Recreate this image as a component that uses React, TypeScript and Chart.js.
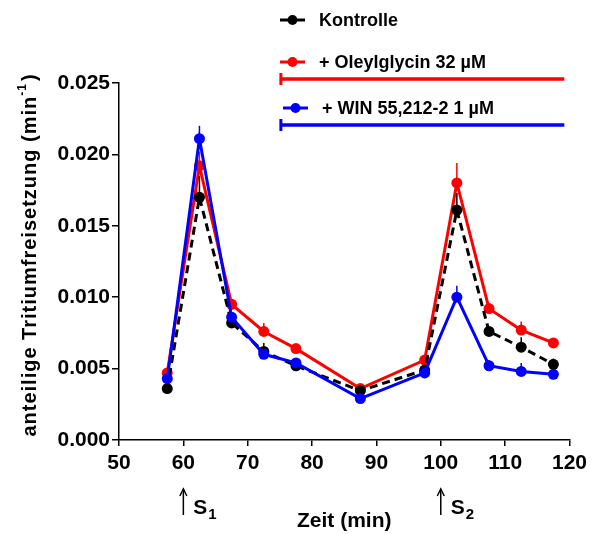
import React, { useEffect, useRef } from "react";
import { Chart, registerables } from "chart.js";

Chart.register(...registerables);

// ---- data ----
const timeMin = [57.5, 62.5, 67.5, 72.5, 77.5, 87.5, 97.5, 102.5, 107.5, 112.5, 117.5];
const kontrolle = [0.0036, 0.017, 0.0082, 0.0062, 0.0052, 0.00345, 0.0049, 0.0161, 0.0076, 0.0065, 0.0053];
const kontrolleErr = [0.0002, 0.0015, 0.0003, 0.0006, 0.0004, 0.0002, 0.0002, 0.0012, 0.0003, 0.0007, 0.0004];
const oleylglycin = [0.0047, 0.0192, 0.0095, 0.0076, 0.0064, 0.0036, 0.0056, 0.018, 0.0092, 0.0077, 0.0068];
const oleylglycinErr = [0.0002, 0.001, 0.0003, 0.0006, 0.0003, 0.0002, 0.0002, 0.0014, 0.0003, 0.0006, 0.0002];
const win = [0.0043, 0.0211, 0.0086, 0.006, 0.0054, 0.0029, 0.0047, 0.01, 0.0052, 0.0048, 0.0046];
const winErr = [0.0002, 0.0009, 0.0002, 0.0002, 0.0002, 0.0001, 0.0002, 0.0008, 0.0004, 0.0006, 0.0002];

const seriesLabels = ["Kontrolle", "+ Oleylglycin 32 µM", "+ WIN 55,212-2 1 µM"];
const seriesColors = ["#000000", "#ff0000", "#0000ff"];
const treatmentStart = [75, 75]; // Oleylglycin, WIN (min)
const treatmentEnd = [119.2, 119.2];
const stimulusTimes = [60, 100];
const stimulusSubs = ["1", "2"];
const xTitle = "Zeit (min)";
const yTitleMain = "anteilige Tritiumfreisetzung (min";
const yTitleSup = "-1";
const yTitleEnd = ")";

const FONT = '"Liberation Sans", Arial, Helvetica, sans-serif';

const errorsBySeries = [kontrolleErr, oleylglycinErr, winErr];

const errorBarPlugin = {
  id: "errorBars",
  beforeDatasetDraw(chart: any, args: any) {
    const idx = args.index;
    const errs = errorsBySeries[idx];
    if (!errs) return;
    const ctx = chart.ctx;
    const xs = chart.scales.x;
    const ys = chart.scales.y;
    const vals = [kontrolle, oleylglycin, win][idx];
    ctx.save();
    ctx.strokeStyle = seriesColors[idx];
    ctx.lineWidth = 1.5;
    for (let i = 0; i < timeMin.length; i++) {
      const x = xs.getPixelForValue(timeMin[i]);
      const y0 = ys.getPixelForValue(vals[i]);
      const y1 = ys.getPixelForValue(vals[i] + errs[i]);
      ctx.beginPath();
      ctx.moveTo(x, y0);
      ctx.lineTo(x, y1);
      ctx.stroke();
    }
    ctx.restore();
  },
};

const decorPlugin = {
  id: "decor",
  afterDraw(chart: any) {
    const ctx = chart.ctx;
    const area = chart.chartArea;
    const xs = chart.scales.x;

    // y-axis title with superscript
    ctx.save();
    ctx.translate(30, 255);
    ctx.rotate(-Math.PI / 2);
    ctx.fillStyle = "#000";
    ctx.textBaseline = "middle";
    ctx.textAlign = "left";
    (ctx as any).letterSpacing = "1px";
    const mainFont = `bold 20px ${FONT}`;
    const supFont = `bold 12px ${FONT}`;
    ctx.font = mainFont;
    const w1 = ctx.measureText(yTitleMain).width;
    const w3 = ctx.measureText(yTitleEnd).width;
    ctx.font = supFont;
    const w2 = ctx.measureText(yTitleSup).width;
    const total = w1 + w2 + w3 + 2;
    let x0 = -total / 2;
    ctx.font = mainFont;
    ctx.fillText(yTitleMain, x0, 0);
    x0 += w1;
    ctx.font = supFont;
    ctx.fillText(yTitleSup, x0, -7);
    x0 += w2 + 2;
    ctx.font = mainFont;
    ctx.fillText(yTitleEnd, x0, 0);
    ctx.restore();

    // legend
    const legendRows = [
      { y: 20, x0: 280 },
      { y: 62, x0: 280 },
      { y: 108, x0: 283 },
    ];
    ctx.save();
    ctx.textBaseline = "middle";
    ctx.textAlign = "left";
    ctx.font = `bold 18px ${FONT}`;
    legendRows.forEach((r, i) => {
      ctx.strokeStyle = seriesColors[i];
      ctx.fillStyle = seriesColors[i];
      ctx.lineWidth = 3;
      ctx.beginPath();
      ctx.moveTo(r.x0, r.y);
      ctx.lineTo(r.x0 + 25, r.y);
      ctx.stroke();
      ctx.beginPath();
      ctx.arc(r.x0 + 12.5, r.y, 5, 0, Math.PI * 2);
      ctx.fill();
      ctx.fillStyle = "#000";
      ctx.fillText(seriesLabels[i], r.x0 + 39, r.y + 1);
    });

    // treatment bars
    const barYs = [area.top - 4, area.top + 42];
    [1, 2].forEach((s, k) => {
      const xa = xs.getPixelForValue(treatmentStart[k]);
      const xb = xs.getPixelForValue(treatmentEnd[k]);
      const y = barYs[k];
      ctx.strokeStyle = seriesColors[s];
      ctx.lineWidth = 3.5;
      ctx.beginPath();
      ctx.moveTo(xa, y);
      ctx.lineTo(xb, y);
      ctx.stroke();
      ctx.lineWidth = 3;
      ctx.beginPath();
      ctx.moveTo(xa + 1, y - 6);
      ctx.lineTo(xa + 1, y + 6);
      ctx.stroke();
    });

    // stimulation arrows S1, S2
    ctx.strokeStyle = "#000";
    ctx.fillStyle = "#000";
    ctx.lineWidth = 1.5;
    stimulusTimes.forEach((t, i) => {
      const x = xs.getPixelForValue(t);
      const yTop = area.bottom + 49;
      const yBot = area.bottom + 75;
      ctx.beginPath();
      ctx.moveTo(x, yBot);
      ctx.lineTo(x, yTop);
      ctx.stroke();
      ctx.beginPath();
      ctx.moveTo(x - 3.5, yTop + 7);
      ctx.lineTo(x, yTop);
      ctx.lineTo(x + 3.5, yTop + 7);
      ctx.stroke();
      ctx.textBaseline = "alphabetic";
      ctx.font = `bold 21px ${FONT}`;
      ctx.fillText("S", x + 10, area.bottom + 74);
      const ws = ctx.measureText("S").width;
      ctx.font = `bold 15px ${FONT}`;
      ctx.fillText(stimulusSubs[i], x + 10 + ws + 1, area.bottom + 79);
    });
    ctx.restore();
  },
};

export default function App() {
  const ref = useRef<HTMLCanvasElement | null>(null);

  useEffect(() => {
    document.body.style.margin = "0";
    document.body.style.overflow = "hidden";
    const canvas = ref.current;
    if (!canvas) return;
    const mk = (vals: number[]) => timeMin.map((t, i) => ({ x: t, y: vals[i] }));
    const chart = new Chart(canvas, {
      type: "line",
      data: {
        datasets: [
          {
            label: seriesLabels[0],
            data: mk(kontrolle),
            borderColor: seriesColors[0],
            backgroundColor: seriesColors[0],
            borderWidth: 3,
            borderDash: [8, 5],
            pointRadius: 5.5,
            pointBorderWidth: 0,
            pointBackgroundColor: seriesColors[0],
            order: 1,
          },
          {
            label: seriesLabels[1],
            data: mk(oleylglycin),
            borderColor: seriesColors[1],
            backgroundColor: seriesColors[1],
            borderWidth: 3,
            pointRadius: 5.5,
            pointBorderWidth: 0,
            pointBackgroundColor: seriesColors[1],
            order: 2,
          },
          {
            label: seriesLabels[2],
            data: mk(win),
            borderColor: seriesColors[2],
            backgroundColor: seriesColors[2],
            borderWidth: 3,
            pointRadius: 5.5,
            pointBorderWidth: 0,
            pointBackgroundColor: seriesColors[2],
            order: 0,
          },
        ],
      },
      options: {
        animation: false,
        responsive: true,
        maintainAspectRatio: false,
        layout: { padding: { top: 83, right: 21, left: 0, bottom: 0 } },
        plugins: {
          legend: { display: false },
          tooltip: { enabled: false },
        },
        scales: {
          x: {
            type: "linear",
            min: 50,
            max: 120,
            ticks: {
              stepSize: 10,
              color: "#000",
              font: { family: FONT, size: 21, weight: "bold" },
              padding: 5,
              maxRotation: 0,
            },
            grid: { drawOnChartArea: false, drawTicks: true, tickLength: 6, color: "#000", lineWidth: 1.5 },
            border: { display: true, color: "#000", width: 1.5 },
            title: {
              display: true,
              text: xTitle,
              color: "#000",
              font: { family: FONT, size: 21, weight: "bold" },
              padding: { top: 0, bottom: 0 },
            },
            afterFit(scale: any) {
              scale.height = 94;
            },
          },
          y: {
            type: "linear",
            min: 0,
            max: 0.025,
            ticks: {
              stepSize: 0.005,
              color: "#000",
              font: { family: FONT, size: 21, weight: "bold" },
              padding: 2,
              callback: (v: any) => Number(v).toFixed(3),
            },
            grid: { drawOnChartArea: false, drawTicks: true, tickLength: 7, color: "#000", lineWidth: 1.5 },
            border: { display: true, color: "#000", width: 1.5 },
            afterFit(scale: any) {
              scale.width = 119;
            },
          },
        },
      },
      plugins: [errorBarPlugin, decorPlugin],
    });
    return () => chart.destroy();
  }, []);

  return (
    <div style={{ position: "absolute", left: 0, top: 0, width: 592, height: 534 }}>
      <canvas ref={ref} />
    </div>
  );
}
